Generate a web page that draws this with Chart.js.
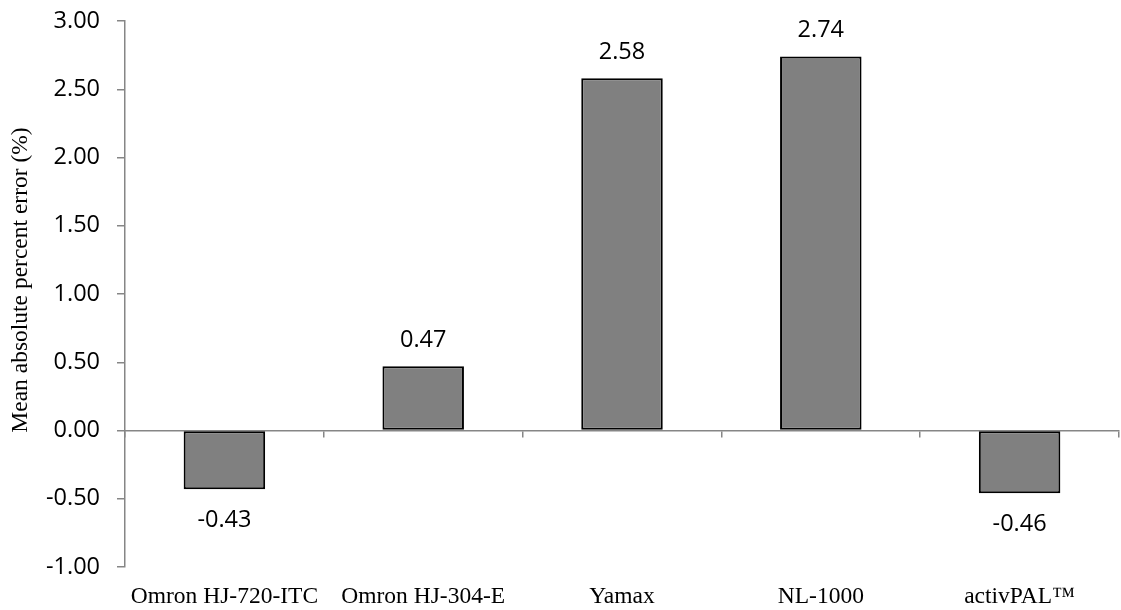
<!DOCTYPE html>
<html>
<head>
<meta charset="utf-8">
<script src="https://cdn.jsdelivr.net/npm/chart.js@4.4.1/dist/chart.umd.min.js"></script>
<style>
	html, body { margin: 0; padding: 0; background: #ffffff; }
	#wrap { width: 1121px; height: 610px; }
</style>
</head>
<body>
<div id="wrap"><canvas id="errorChart"></canvas></div>
<script>
const devices = ["Omron HJ-720-ITC", "Omron HJ-304-E", "Yamax", "NL-1000", "activPAL\u2122"];
const errorValues = [-0.43, 0.47, 2.58, 2.74, -0.46];
const yTicks = [-1.0, -0.5, 0.0, 0.5, 1.0, 1.5, 2.0, 2.5, 3.0];
const yTitle = "Mean absolute percent error (%)";

const axisGray = "#868686";
const sansFont = "'Open Sans', sans-serif";
const serifFont = "'Liberation Serif', 'Times New Roman', serif";

// value labels above / below each bar
const barLabels = {
	id: "barLabels",
	afterDatasetsDraw(chart) {
		const ctx = chart.ctx;
		const meta = chart.getDatasetMeta(0);
		ctx.save();
		ctx.font = "23.5px " + sansFont;
		ctx.fillStyle = "#000000";
		ctx.textAlign = "center";
		ctx.textBaseline = "middle";
		meta.data.forEach((bar, i) => {
			const v = errorValues[i];
			const y = v >= 0 ? bar.y - 26 : bar.y + 31;
			ctx.fillText(v.toFixed(2), bar.x, y);
		});
		ctx.restore();
	},
};

// rotated y axis title
const yAxisTitle = {
	id: "yAxisTitle",
	afterDraw(chart) {
		const ctx = chart.ctx;
		const area = chart.chartArea;
		ctx.save();
		ctx.translate(21, (area.top + area.bottom) / 2 - 14);
		ctx.rotate(-Math.PI / 2);
		ctx.font = "23.5px " + serifFont;
		ctx.fillStyle = "#000000";
		ctx.textAlign = "center";
		ctx.textBaseline = "middle";
		ctx.fillText(yTitle, 0, 0);
		ctx.restore();
	},
};

const chartCanvas = document.getElementById("errorChart");
new Chart(chartCanvas, {
	type: "bar",
	data: {
		labels: devices,
		datasets: [
			{
				data: errorValues,
				backgroundColor: "#808080",
				borderColor: "#000000",
				borderWidth: 2,
				borderSkipped: false,
				categoryPercentage: 1.0,
				barPercentage: 0.41,
				xAxisID: "x",
			},
		],
	},
	options: {
		responsive: true,
		maintainAspectRatio: false,
		animation: false,
		layout: {
			padding: { top: 21, right: 2, bottom: 0, left: 0 },
		},
		scales: {
			x: {
				position: "bottom",
				offset: true,
				border: { display: false },
				grid: { display: false, drawTicks: false },
				ticks: {
					color: "#000000",
					padding: 16,
					maxRotation: 0,
					autoSkip: false,
					font: { family: serifFont, size: 23.5 },
				},
				afterFit: (scale) => {
					scale.height = 43;
					scale.paddingLeft = 0;
					scale.paddingRight = 0;
				},
			},
			x2: {
				type: "category",
				labels: devices,
				position: { y: 0 },
				offset: true,
				border: { display: true, color: axisGray, width: 1.5 },
				grid: {
					offset: true,
					drawOnChartArea: false,
					drawTicks: true,
					tickLength: 6,
					color: axisGray,
					lineWidth: 1.5,
				},
				ticks: { display: false },
			},
			y: {
				min: -1,
				max: 3,
				afterBuildTicks: (scale) => {
					scale.ticks = yTicks.map((v) => ({ value: v }));
				},
				border: { display: true, color: axisGray, width: 1.5 },
				grid: {
					drawOnChartArea: false,
					drawTicks: true,
					tickLength: 8,
					color: axisGray,
					lineWidth: 1.5,
				},
				ticks: {
					color: "#000000",
					padding: 17,
					font: { family: sansFont, size: 23.5 },
					callback: (v) => Number(v).toFixed(2),
				},
				afterFit: (scale) => {
					scale.width = 125;
					scale.paddingTop = 0;
					scale.paddingBottom = 0;
				},
			},
		},
		plugins: {
			legend: { display: false },
			tooltip: { enabled: false },
		},
	},
	plugins: [barLabels, yAxisTitle],
});
</script>
</body>
</html>
